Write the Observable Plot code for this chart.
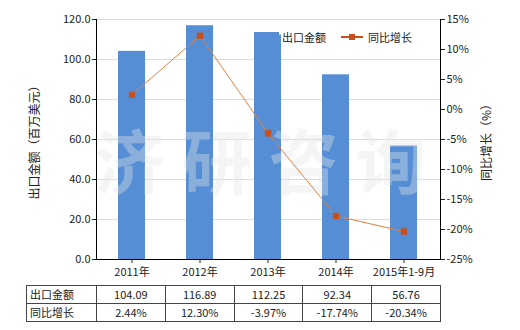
<!DOCTYPE html>
<html><head><meta charset="utf-8">
<script src="https://cdn.jsdelivr.net/npm/d3@7"></script>
<script src="https://cdn.jsdelivr.net/npm/@observablehq/plot@0.6"></script>
<style>
body{margin:0;background:#fff;font-family:"Noto Sans CJK SC","Noto Sans",sans-serif;}
#wrap{position:relative;width:520px;height:330px;overflow:hidden;}
#wrap svg{position:absolute;left:0;top:0;}
table{position:absolute;border-collapse:collapse;font-size:11px;color:#222;table-layout:fixed;}
td{border:1px solid #444;height:17px;padding:0;text-align:center;line-height:17px;white-space:nowrap;}
td.h{text-align:left;padding-left:3px;}
.legend{position:absolute;font-size:11px;color:#222;line-height:14px;}
</style></head><body><div id="wrap"></div><script>
const categories = ["2011年","2012年","2013年","2014年","2015年1-9月"];
const exportValues = [104.09,116.89,112.25,92.34,56.76];
const growthValues = [2.44,12.30,-3.97,-17.74,-20.34];
const growthLabels = ["2.44%","12.30%","-3.97%","-17.74%","-20.34%"];
const leftTicks = [0,20,40,60,80,100,120];
const rightTicks = [-25,-20,-15,-10,-5,0,5,10,15];
const seriesNames = ["出口金额","同比增长"];
const watermark = "济研咨询";

const W=520,H=330,ML=96,MR=80,MT=19,MB=71;
const barColor="#558ED5", lineColor="#E3803F", dotColor="#C8501C";
const toLeft = p => (p+25)*3; // map -25..15 % to 0..120
const data = categories.map((c,i)=>({c, v: exportValues[i], g: growthValues[i]}));

const chart = Plot.plot({
  width:W,height:H,marginLeft:ML,marginRight:MR,marginTop:MT,marginBottom:MB,
  style:{fontFamily:'"Noto Sans CJK SC","Noto Sans",sans-serif', fontSize:"11px", color:"#222", background:"transparent"},
  x:{domain:categories, paddingInner:0.6, paddingOuter:0.3, label:null},
  y:{domain:[0,120], label:null},
  marks:[
    Plot.gridY(leftTicks,{stroke:"#dcdcdc",strokeOpacity:1}),
    Plot.barY(data,{x:"c",y:"v",fill:barColor}),
    Plot.text([watermark],{frameAnchor:"middle", dx:0, dy:27, fontSize:70, fontWeight:"bold", fill:"#e6e6e6", fillOpacity:0.38}),
    Plot.line(data,{x:"c",y:d=>toLeft(d.g),stroke:lineColor,strokeWidth:1}),
    Plot.dot(data,{x:"c",y:d=>toLeft(d.g),symbol:"square",r:3.6,fill:dotColor,stroke:null}),
    Plot.frame({anchor:"left",stroke:"#000"}),
    Plot.frame({anchor:"right",stroke:"#000"}),
    Plot.frame({anchor:"bottom",stroke:"#000"}),
    Plot.axisY(leftTicks,{anchor:"left",tickFormat:d=>d.toFixed(1),tickSize:4,tickPadding:2,label:"出口金额（百万美元）",labelAnchor:"center",labelOffset:66,labelArrow:"none"}),
    Plot.axisY(rightTicks,{anchor:"right",y:toLeft,tickFormat:d=>d+"%",tickSize:4,tickPadding:2,label:"同比增长（%）",labelAnchor:"center",labelOffset:50,labelArrow:"none"}),
    Plot.axisX({tickSize:4,tickPadding:5,label:null})
  ]
});
d3.select(chart).selectAll("text").filter(function(){return this.textContent===watermark;}).attr("letter-spacing","17px");
d3.select(chart).selectAll('g[aria-label="y-axis label"] text').style("font-size","12px");
const wrap=document.getElementById("wrap");
wrap.appendChild(chart);

// legend
const lg=document.createElement("div");
lg.innerHTML=`<div class="legend" style="left:254px;top:32px;width:25px;height:12px;background:${barColor}"></div>
<div class="legend" style="left:282px;top:30px;">${seriesNames[0]}</div>
<div class="legend" style="left:341px;top:36px;width:22px;height:2px;background:${dotColor}"></div>
<div class="legend" style="left:349px;top:34px;width:6px;height:6px;background:${dotColor}"></div>
<div class="legend" style="left:368px;top:30px;">${seriesNames[1]}</div>`;
wrap.appendChild(lg);

// table
const step=(W-ML-MR)/categories.length;
const tbl=document.createElement("table");
tbl.style.left="26px"; tbl.style.top="285px";
let html=`<colgroup><col style="width:${ML-26}px">${categories.map(()=>`<col style="width:${step}px">`).join("")}</colgroup>`;
html+=`<tr><td class="h">${seriesNames[0]}</td>${exportValues.map(v=>`<td>${v.toFixed(2)}</td>`).join("")}</tr>`;
html+=`<tr><td class="h">${seriesNames[1]}</td>${growthLabels.map(v=>`<td>${v}</td>`).join("")}</tr>`;
tbl.innerHTML=html;
wrap.appendChild(tbl);
</script></body></html>
